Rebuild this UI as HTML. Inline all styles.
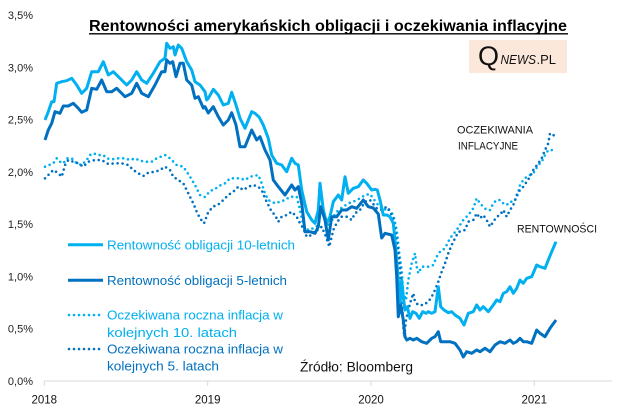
<!DOCTYPE html>
<html><head><meta charset="utf-8"><style>
html,body{margin:0;padding:0;background:#fff;}
svg{display:block;}
text{font-family:"Liberation Sans",sans-serif;}
</style></head><body>
<svg width="643" height="416" viewBox="0 0 643 416" xmlns="http://www.w3.org/2000/svg">
<rect width="643" height="416" fill="#fff"/>
<!-- title -->
<text x="89" y="31" font-size="15.5" font-weight="bold" fill="#000" textLength="478" lengthAdjust="spacingAndGlyphs">Rentowności amerykańskich obligacji i oczekiwania inflacyjne</text>
<line x1="89" y1="33.8" x2="568" y2="33.8" stroke="#000" stroke-width="1.3"/>
<!-- logo -->
<rect x="469" y="40" width="98" height="33" fill="#fce8da"/>
<text x="478" y="65" font-family="Liberation Serif" font-size="27" fill="#111">Q</text>
<text x="500.5" y="64" font-size="12.5" font-style="italic" fill="#111" textLength="35.5" lengthAdjust="spacingAndGlyphs">NEWS</text>
<text x="536.5" y="64" font-size="12.5" fill="#111" textLength="19.5" lengthAdjust="spacingAndGlyphs">.PL</text>
<!-- y labels -->
<g font-size="11" fill="#222" text-anchor="end">
<text x="33" y="19">3,5%</text>
<text x="33" y="71.3">3,0%</text>
<text x="33" y="123.6">2,5%</text>
<text x="33" y="175.9">2,0%</text>
<text x="33" y="228.1">1,5%</text>
<text x="33" y="280.4">1,0%</text>
<text x="33" y="332.7">0,5%</text>
<text x="33" y="385">0,0%</text>
</g>
<!-- x axis -->
<line x1="44.3" y1="381" x2="612" y2="381" stroke="#d9d9d9" stroke-width="1"/>
<g stroke="#d9d9d9" stroke-width="1">
<line x1="44.3" y1="381" x2="44.3" y2="386"/>
<line x1="207.7" y1="381" x2="207.7" y2="386"/>
<line x1="371" y1="381" x2="371" y2="386"/>
<line x1="534.3" y1="381" x2="534.3" y2="386"/>
</g>
<g font-size="11.5" fill="#111" text-anchor="middle">
<text x="44.3" y="403.5">2018</text>
<text x="207.7" y="403.5">2019</text>
<text x="371" y="403.5">2020</text>
<text x="534.3" y="403.5">2021</text>
</g>
<!-- series -->
<g fill="none" stroke-linejoin="round">
<polyline stroke="#00b0f0" stroke-width="2.6" stroke-linecap="round" stroke-dasharray="0 5" points="45,166.7 53.3,163.3 56.7,158.3 60,161.7 63.3,163.3 67.3,158.3 71.7,158.3 76.7,163.3 81.7,165 86.7,160 90,155 93.3,153.3 98.3,155 103.3,155 106.7,158.3 111.7,159.3 118.3,158.3 125,158.3 130,160 135,158.3 140,160.7 146.7,161.7 151.7,161.7 156.7,158.3 165,155 170,158.3 176.7,165 183.3,166.7 190,176.7 195,185 200,195 205,197 210,191 215,189 220,185.5 225,183.3 230,178.3 235,178.3 240,178.3 245,180 250,176.7 255,175.7 258.3,175 261.7,183.3 265,193.3 268.3,200 275,203.3 280,201.7 285,200 290,196.7 296.7,196.7 300,210 303.3,225 308.3,230 313.3,228.3 318.3,225 321.7,206.7 325,220 330,226.7 333.3,216.7 338.3,210 343.3,206.7 348.3,203.3 353.3,201.7 360,198.3 365,195 370,194 376.7,203.3 383.3,210 388.3,208.3 393.3,215 396.7,230 399.3,253.3 401.7,270 403.3,293.3 406,300 408.3,280 411.7,263.3 415,253.3 416.7,266.7 418.3,273.3 421.7,266.7 428.3,266.7 433.3,265 436.7,256.7 440,251.7 445,248.3 450,238.3 456.7,230 460,225 463.3,220 468.3,215 473.3,208.3 476.7,198.3 480,203.3 483.3,206.7 486.7,210 490,210 493.3,203.3 496.7,200 500,200 503.3,203.3 506.7,205 510,201.7 513.3,201.7 516.7,198.3 520,185 523.3,180 526.7,176.7 530,175 533.3,173.3 538.3,165 541.7,161.7 545,155 548.3,150 551.7,150 555,151.7"/>
<polyline stroke="#0070c0" stroke-width="2.6" stroke-linecap="round" stroke-dasharray="0 5" points="45,178.3 50,173.3 53.3,170 58.3,173.3 61.7,176.7 65,165 68.3,160 73.3,161.7 78.3,163.3 83.3,166.7 88.3,161.7 95,160 101.7,160 108.3,164 115,163.3 121.7,163.3 128.3,165 133.3,170 138.3,173.3 143.3,176 148.3,172.7 155,171.7 160,170 165,166.7 170,170 173.3,176.7 178.3,180 183.3,183.3 188.3,193.3 193.3,203.3 196.7,211.7 200,218.3 204,223.3 208.3,212 213.3,206.5 218.3,204.5 223.3,200 228.3,195 233.3,191.7 238.3,186.7 243.3,190 248.3,186.7 253.3,185 258.3,186.7 261.7,190 265,198.3 268.3,205 271.7,211.7 275,215 278.3,221.7 281.7,216.7 286.7,215 291.7,211.7 296.7,216.7 300,223.3 303.3,228.3 306.7,236.7 311.7,235 315,230 318.3,230 321.7,226.7 326,236.7 329.3,246.7 333.3,230 337.3,221.7 341.7,216.7 346.7,216.7 351.7,220 355,213.3 360,210 365,201.7 370,200 376.7,208.3 381.7,210 386.7,206.7 390,211.7 393.3,218.3 396.7,240 400,266.7 401.7,293.3 403.3,326.7 404.3,336.7 406,320 410,303.3 413.3,293.3 415,301.7 418.3,305 423.3,305 428.3,301.7 431.7,296.7 435,290 438.3,281.7 441.7,271.7 445,263.3 448.3,253.3 451.7,245 455,238.3 458.3,232 461.7,231 465,230 468.3,221.7 473.3,220 476.7,213.3 480,218.3 483.3,215 486.7,220 490,226.7 493.3,221.7 496.7,216.7 500,215 503.3,210 506.7,216.7 510,210 513.3,205 516.7,195 520,190 523.3,186.7 526.7,181.7 530,176.7 533.3,170 538.3,163.3 541.7,158.3 545,150 548.3,143.3 550,133.3 553.3,135 555.7,136.7"/>
<polyline stroke="#00b0f0" stroke-width="3" points="45,120 48.3,111.7 51.7,101.7 54,101.7 56.7,83.3 61.7,81.7 66.7,80.7 71.7,78.3 76.7,85 81.7,93.3 86.7,88.3 91.7,71.7 98.3,71.7 103.3,61.7 108.3,75 113.3,71.7 120,78.3 126.7,85 131.7,80 136.7,71.7 141.7,80 146.7,83.3 153.3,73.3 160,61.7 165,58.3 166.7,43.3 170,48.3 173.3,46.7 175,55 178.3,45 181.7,48.3 186.7,61.7 191.7,70 195,81.7 200,85 205,91.7 206.7,100 208.3,98.3 213.3,89.3 218.3,95 223.3,105 228.3,103.3 231.7,92.3 236,105 240,118.3 245,128.3 251.7,111.7 255,113.3 259.3,117.3 263.3,125 268.3,138.3 271.7,155 276.7,163.3 281.7,165 286.7,171.7 291.7,158.3 295,163.3 298.3,165 301.7,190 306.7,211.7 311.7,220 315,223.3 318.3,210 320,183.3 323.3,210 326.7,223.3 330,216.7 333.3,201.7 338.3,195 341.7,200 345,176.7 348.3,193.3 353.3,188.3 358.3,186.7 363.3,180 366.7,183.3 371.7,190 375,189.3 377.3,190 380,200 383.3,215 386.7,215 390,216.7 393.3,223.3 395,240 398.3,280 400,306.7 401.7,280 403.3,296.7 405,310 407.3,306.7 410,318.3 412.7,311.7 416,313.3 419.3,318.3 422.7,311.7 426,313.3 428.3,311.7 431.7,313.3 435,311.7 438.3,286.7 440.7,306.7 444,310 448.3,312.7 451.7,311.7 455,315 460,318.3 464,325 468.3,313.3 473.3,311.7 476.7,305 480,310 483.3,306.7 488.3,311.7 493.3,305 496.7,300 500,301.7 503.3,293.3 506.7,291.7 510,286.7 513.3,293.3 516.7,288.3 520,280 523.3,283.3 526.7,278.3 531.7,276.7 536.7,265 540,266.7 545,268.3 548.3,260 551.7,251.7 556,241.7"/>
<polyline stroke="#0070c0" stroke-width="3" points="45,140 48.3,130 51.7,123.3 55,111.7 60,113.3 63.3,106 68.3,106 73.3,103.3 78.3,108.3 81.7,112.3 86.7,110 91.7,88.3 96.7,89.3 101.7,80 106.7,91.7 111.7,91.7 116.7,88.3 125,96.7 131.7,93.3 136.7,83.3 141.7,93.3 148.3,96.7 155,85 161.7,71.7 165,71.7 166.7,60 170,63.3 172.7,61.7 176,76.7 180,63.3 183.3,63.3 186.7,80 191.7,85 195,98.3 198.3,96.7 203.3,108 205,106.7 208.3,113 213.3,106.7 218.3,116.7 223.3,125 228.3,120 231.7,112.7 236,125 240,146.7 245,146.7 251.7,130 256.7,140 260,136.7 265,150 270,160 273.3,180 278.3,186.7 285,195 291.7,185 295,190 298.3,186.7 301.7,203.3 305,231.7 310,231.7 315,233.3 318.3,226.7 320.7,206.7 325,220 328.3,240 331.7,216.7 336.7,216.7 341.7,210 346.7,210 351.7,206.7 356.7,208.3 363.3,200 368.3,206.7 373.3,208 378.3,214 381.7,238 385,233.3 391.7,235 395,250 396.7,276.7 398.3,316.7 400.7,305 403.3,320 405,336.7 406.7,340 410,338.3 413.3,340 416.7,338.3 421.7,341.7 426.7,343.3 431.7,338.3 435,336.7 438.3,331.7 440.7,341.7 445,341.7 450,341.7 455,343.3 460,350 463.3,357 466.7,351.7 471.7,353.3 476.7,350 480,351.7 485,348.3 490,351.7 495,345 500,341.7 505,343.3 510,340 513.3,343.3 516.7,341.7 520,338.3 523.3,341.7 526.7,341.7 531.7,343.3 536.7,330 540,333.3 545,336.7 550,328.3 556,320"/>
</g>
<!-- annotations -->
<g font-size="11" fill="#111">
<text x="457" y="133.5" textLength="76" lengthAdjust="spacingAndGlyphs">OCZEKIWANIA</text>
<text x="458" y="149.5" textLength="60" lengthAdjust="spacingAndGlyphs">INFLACYJNE</text>
<text x="517" y="232.5" textLength="80" lengthAdjust="spacingAndGlyphs">RENTOWNOŚCI</text>
</g>
<!-- legend -->
<line x1="68" y1="244.7" x2="103" y2="244.7" stroke="#00b0f0" stroke-width="3"/>
<line x1="68" y1="280.3" x2="103" y2="280.3" stroke="#0070c0" stroke-width="3"/>
<line x1="69" y1="315" x2="101" y2="315" stroke="#00b0f0" stroke-width="2.6" stroke-linecap="round" stroke-dasharray="0 5"/>
<line x1="69" y1="349" x2="101" y2="349" stroke="#0070c0" stroke-width="2.6" stroke-linecap="round" stroke-dasharray="0 5"/>
<g font-size="13">
<text x="107" y="249.7" fill="#00b0f0" textLength="188" lengthAdjust="spacingAndGlyphs">Rentowność obligacji 10-letnich</text>
<text x="107" y="284.8" fill="#0070c0" textLength="180" lengthAdjust="spacingAndGlyphs">Rentowność obligacji 5-letnich</text>
<text x="107" y="319.5" fill="#00b0f0" textLength="176" lengthAdjust="spacingAndGlyphs">Oczekiwana roczna inflacja w</text>
<text x="107" y="337" fill="#00b0f0" textLength="130" lengthAdjust="spacingAndGlyphs">kolejnych 10. latach</text>
<text x="107" y="353.5" fill="#0070c0" textLength="176" lengthAdjust="spacingAndGlyphs">Oczekiwana roczna inflacja w</text>
<text x="107" y="370.5" fill="#0070c0" textLength="112" lengthAdjust="spacingAndGlyphs">kolejnych 5. latach</text>
</g>
<text x="300" y="371.5" font-size="13.5" fill="#111" textLength="113" lengthAdjust="spacingAndGlyphs">Źródło: Bloomberg</text>
</svg>
</body></html>
